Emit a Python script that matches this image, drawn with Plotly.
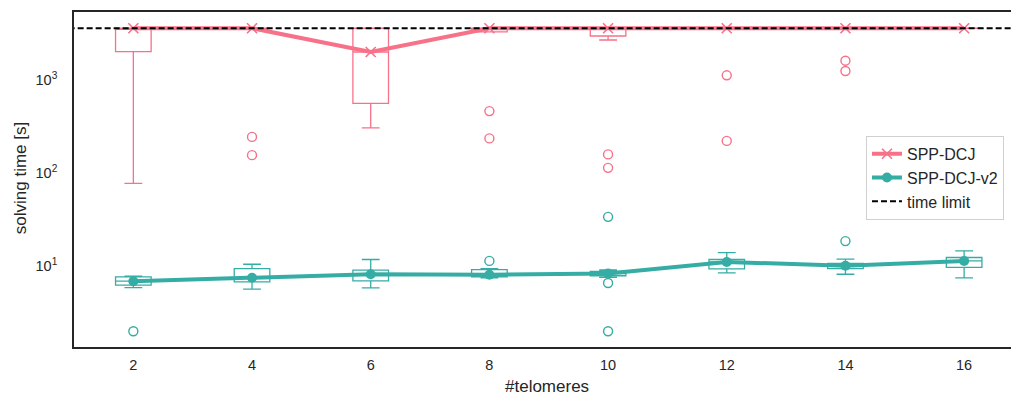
import plotly.graph_objects as go

# ---- data ----
telomeres = [2, 4, 6, 8, 10, 12, 14, 16]

# SPP-DCJ box statistics (seconds)
spp_q1 = [2015, 3600, 561, 3300, 2973, 3600, 3600, 3600]
spp_med = [3600, 3600, 2000, 3600, 3600, 3600, 3600, 3600]
spp_q3 = [3600, 3600, 3600, 3600, 3600, 3600, 3600, 3600]
spp_lo = [77.5, 3600, 307, 3300, 2692, 3600, 3600, 3600]
spp_hi = [3600, 3600, 3600, 3600, 3600, 3600, 3600, 3600]
spp_out_x = [4, 4, 8, 8, 10, 10, 12, 12, 14, 14]
spp_out_y = [245, 156, 464, 236, 159, 114, 1124, 222, 1614, 1250]

# SPP-DCJ-v2 box statistics (seconds)
v2_q1 = [6.25, 6.8, 6.95, 7.7, 7.9, 9.35, 9.4, 9.7]
v2_med = [6.9, 7.5, 8.2, 8.1, 8.35, 11.1, 10.1, 11.4]
v2_q3 = [7.67, 9.4, 9.06, 9.2, 8.8, 11.8, 10.7, 12.4]
v2_lo = [5.9, 5.67, 5.85, 7.5, 7.6, 8.5, 8.2, 7.5]
v2_hi = [7.8, 10.5, 11.8, 9.4, 9.1, 14.0, 11.9, 14.6]
v2_out_x = [2, 8, 10, 10, 10, 14]
v2_out_y = [2.0, 11.4, 33.9, 6.6, 2.0, 18.6]

time_limit = 3600
tick_vals = [10, 100, 1000]
tick_text = ["10<sup>1</sup>", "10<sup>2</sup>", "10<sup>3</sup>"]

PINK = "#f77189"
TEAL = "#36ada4"
TXT = "#262626"
FONT = "Liberation Sans, Arial, sans-serif"

fig = go.Figure()

for q1, med, q3, lo, hi, col in [
    (spp_q1, spp_med, spp_q3, spp_lo, spp_hi, PINK),
    (v2_q1, v2_med, v2_q3, v2_lo, v2_hi, TEAL),
]:
    fig.add_trace(go.Box(
        x=telomeres, q1=q1, median=med, q3=q3, lowerfence=lo, upperfence=hi,
        width=0.6, whiskerwidth=0.5, boxpoints=False,
        line=dict(color=col, width=1.3), fillcolor="rgba(0,0,0,0)",
        showlegend=False, hoverinfo="skip",
    ))

fig.add_trace(go.Scatter(
    x=spp_out_x, y=spp_out_y, mode="markers", showlegend=False,
    marker=dict(symbol="circle-open", size=9, color=PINK, line=dict(width=1.4, color=PINK)),
))
fig.add_trace(go.Scatter(
    x=v2_out_x, y=v2_out_y, mode="markers", showlegend=False,
    marker=dict(symbol="circle-open", size=9, color=TEAL, line=dict(width=1.4, color=TEAL)),
))

fig.add_trace(go.Scatter(
    x=telomeres, y=spp_med, mode="lines+markers", name="SPP-DCJ",
    line=dict(color=PINK, width=4),
    marker=dict(symbol="x-thin", size=10, color=PINK, line=dict(width=1.6, color=PINK)),
))
fig.add_trace(go.Scatter(
    x=telomeres, y=v2_med, mode="lines+markers", name="SPP-DCJ-v2",
    line=dict(color=TEAL, width=4),
    marker=dict(symbol="circle", size=10, color=TEAL),
))
fig.add_trace(go.Scatter(
    x=[0, 18], y=[time_limit, time_limit], mode="lines", name="time limit",
    line=dict(color="black", width=2, dash="6px,3px"),
))

fig.update_layout(
    width=1011, height=394,
    margin=dict(l=74, r=0, t=12, b=47),
    plot_bgcolor="white", paper_bgcolor="white",
    font=dict(family=FONT, size=14, color=TXT),
    legend=dict(
        x=0.9925, xanchor="right", y=0.505, yanchor="middle",
        bgcolor="white", bordercolor="#d0d0d0", borderwidth=1,
        font=dict(size=16, color=TXT), tracegroupgap=0,
    ),
    annotations=[
        dict(text="solving time [s]", xref="paper", yref="paper",
             x=-0.0576, y=0.504, xanchor="center", yanchor="middle",
             textangle=-90, showarrow=False, font=dict(size=17, color=TXT)),
        dict(text="#telomeres", xref="paper", yref="paper",
             x=0.5048, y=-0.117, xanchor="center", yanchor="middle",
             showarrow=False, font=dict(size=17, color=TXT)),
    ],
)
fig.update_xaxes(
    range=[1, 16.79], tickvals=telomeres, ticktext=[str(t) for t in telomeres],
    showgrid=False, zeroline=False, showline=True, linecolor=TXT, linewidth=1.6,
    mirror=True, ticks="", ticklabelstandoff=4, automargin=False,
    tickfont=dict(size=14.5, color=TXT),
)
fig.update_yaxes(
    type="log", range=[0.132, 3.731], tickvals=tick_vals, ticktext=tick_text,
    showgrid=False, zeroline=False, showline=True, linecolor=TXT, linewidth=1.6,
    mirror=False, ticks="", ticklabelstandoff=12, automargin=False,
    tickfont=dict(size=14.5, color=TXT),
)

fig.write_html(
    "out.html",
    config={"displayModeBar": False},
    post_script="document.body.style.margin='0';document.body.style.overflow='hidden';",
)
